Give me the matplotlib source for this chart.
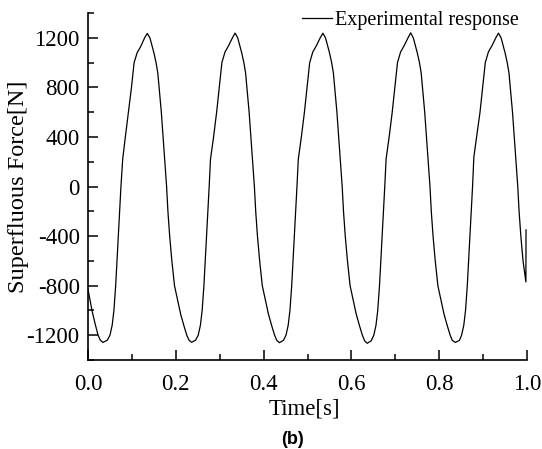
import matplotlib
matplotlib.use("Agg")
import matplotlib.pyplot as plt
from matplotlib.ticker import MultipleLocator

# Time [s] and superfluous force [N]
time_s = [
    0.000, 0.009, 0.017, 0.023, 0.028, 0.034, 0.044, 0.050, 0.055, 0.059,
    0.063, 0.066, 0.069, 0.072, 0.075, 0.079, 0.085, 0.092, 0.099, 0.105,
    0.112, 0.120, 0.129, 0.135, 0.141, 0.150, 0.155, 0.159, 0.162, 0.167,
    0.171, 0.175, 0.179, 0.182, 0.186, 0.191, 0.197,
    0.205, 0.211, 0.219, 0.225, 0.230, 0.236, 0.245, 0.251, 0.256, 0.260,
    0.264, 0.267, 0.270, 0.273, 0.276, 0.279, 0.286, 0.293, 0.299, 0.305,
    0.312, 0.320, 0.329, 0.335, 0.341, 0.350, 0.355, 0.359, 0.362, 0.367,
    0.371, 0.375, 0.379, 0.382, 0.386, 0.391, 0.397,
    0.405, 0.411, 0.419, 0.425, 0.430, 0.436, 0.445, 0.451, 0.456, 0.460,
    0.464, 0.467, 0.470, 0.473, 0.476, 0.479, 0.486, 0.493, 0.499, 0.505,
    0.512, 0.520, 0.529, 0.535, 0.541, 0.550, 0.555, 0.559, 0.562, 0.567,
    0.571, 0.575, 0.579, 0.582, 0.586, 0.591, 0.597,
    0.605, 0.611, 0.619, 0.625, 0.630, 0.636, 0.645, 0.651, 0.656, 0.660,
    0.664, 0.667, 0.670, 0.673, 0.676, 0.679, 0.686, 0.693, 0.699, 0.705,
    0.712, 0.720, 0.729, 0.735, 0.741, 0.750, 0.755, 0.759, 0.762, 0.767,
    0.771, 0.775, 0.779, 0.782, 0.786, 0.791, 0.797,
    0.805, 0.811, 0.819, 0.825, 0.830, 0.837, 0.846, 0.851, 0.856, 0.860,
    0.864, 0.867, 0.870, 0.873, 0.876, 0.879, 0.886, 0.893, 0.899, 0.905,
    0.912, 0.920, 0.929, 0.935, 0.941, 0.950, 0.955, 0.959, 0.962, 0.967,
    0.971, 0.975, 0.979, 0.982, 0.986, 0.991, 0.9975, 0.9978,
]
force_n = [
    -830, -1000, -1120, -1200, -1240, -1258, -1240, -1200, -1120, -1000,
    -800, -600, -400, -200, 0, 220, 400, 600, 800, 1000,
    1080, 1130, 1200, 1235, 1200, 1080, 1000, 915, 800, 600,
    400, 200, 0, -200, -400, -600, -800,
    -930, -1030, -1130, -1200, -1240, -1257, -1240, -1200, -1120, -1000,
    -800, -600, -400, -200, 0, 220, 400, 600, 800, 1000,
    1085, 1135, 1200, 1238, 1200, 1080, 1000, 915, 800, 600,
    400, 200, 0, -200, -400, -600, -800,
    -930, -1030, -1130, -1200, -1242, -1260, -1242, -1200, -1120, -1000,
    -800, -600, -400, -200, 0, 220, 400, 600, 800, 1000,
    1085, 1135, 1200, 1237, 1200, 1080, 1000, 915, 800, 600,
    400, 200, 0, -200, -400, -600, -800,
    -930, -1030, -1130, -1200, -1245, -1265, -1245, -1200, -1120, -1000,
    -800, -600, -400, -200, 0, 220, 400, 600, 800, 1000,
    1085, 1135, 1200, 1240, 1200, 1080, 1000, 915, 800, 600,
    400, 200, 0, -200, -400, -600, -800,
    -930, -1030, -1130, -1200, -1242, -1258, -1242, -1200, -1120, -1000,
    -800, -600, -400, -200, 0, 240, 420, 600, 800, 1000,
    1085, 1135, 1200, 1238, 1200, 1080, 1000, 915, 800, 600,
    400, 200, 0, -200, -400, -600, -770, -350,
]

x_ticks = [0.0, 0.2, 0.4, 0.6, 0.8, 1.0]
x_tick_labels = ["0.0", "0.2", "0.4", "0.6", "0.8", "1.0"]
y_ticks = [-1200, -800, -400, 0, 400, 800, 1200]
y_tick_labels = ["-1200", "-800", "-400", "0", "400", "800", "1200"]

serif = ["Liberation Serif", "DejaVu Serif"]

fig = plt.figure(figsize=(5.42, 4.49), dpi=100)
ax = fig.add_axes([0.1624, 0.1982, 0.8099, 0.7728])

ax.plot(time_s, force_n, color="black", linewidth=0.9, label="Experimental response")

ax.set_xlim(0.0, 1.0)
ax.set_ylim(-1400, 1400)
ax.set_xticks(x_ticks)
ax.set_xticklabels(x_tick_labels, family=serif, fontsize=16.5)
ax.set_yticks(y_ticks)
ax.set_yticklabels(y_tick_labels, family=serif, fontsize=16.5)
ax.xaxis.set_minor_locator(MultipleLocator(0.1))
ax.yaxis.set_minor_locator(MultipleLocator(200))
ax.tick_params(which="major", direction="in", length=7, width=1.1)
ax.tick_params(which="minor", direction="in", length=4, width=1.1)
ax.tick_params(axis="x", which="major", pad=10)
ax.tick_params(axis="y", which="major", pad=6)
ax.spines["top"].set_visible(False)
ax.spines["right"].set_visible(False)
ax.spines["left"].set_linewidth(1.2)
ax.spines["bottom"].set_linewidth(1.2)

ax.set_xlabel("Time[s]", family=serif, fontsize=16.5)
ax.xaxis.set_label_coords(0.494, -0.141)
ax.xaxis.label.set_va("center")
ax.set_ylabel("Superfluous Force[N]", family=serif, fontsize=17.5)
ax.yaxis.set_label_coords(-0.159, 0.5)
ax.yaxis.label.set_va("center")

leg = ax.legend(loc="upper right", bbox_to_anchor=(1.0, 1.03), frameon=False,
                prop={"family": serif, "size": 14.5}, handlelength=1.5,
                handletextpad=0.15, borderaxespad=0.0)

fig.text(292 / 542, 1 - 440 / 449, "(b)", family=["Liberation Sans", "DejaVu Sans"],
         fontsize=13, fontweight="bold", ha="center", va="center")

fig.savefig("out.png", dpi=100)
